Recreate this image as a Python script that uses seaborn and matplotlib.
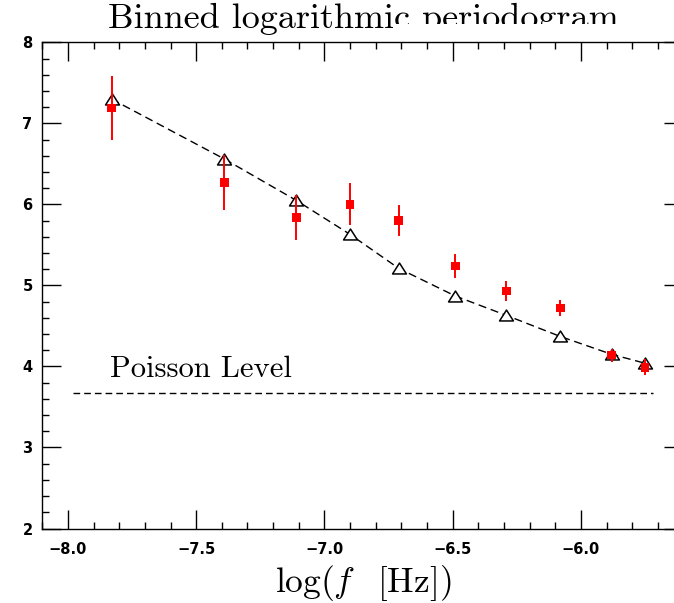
import matplotlib
matplotlib.use("Agg")
import matplotlib.pyplot as plt
from matplotlib.path import Path
from matplotlib.patches import Rectangle
from matplotlib.ticker import MultipleLocator
import pandas as pd
import seaborn as sns

# Binned periodogram: log frequency bins, model and observed log power
log_freq = [-7.83, -7.39, -7.11, -6.90, -6.71, -6.49, -6.29, -6.08, -5.88, -5.75]
model_power = [7.30, 6.56, 6.05, 5.63, 5.21, 4.87, 4.63, 4.37, 4.15, 4.04]
observed_power = [7.19, 6.27, 5.84, 6.00, 5.80, 5.24, 4.93, 4.72, 4.14, 3.99]
observed_err = [0.40, 0.34, 0.28, 0.26, 0.19, 0.15, 0.12, 0.10, 0.08, 0.10]

poisson_level = 3.67
poisson_span = [-7.98, -5.72]
poisson_label = "Poisson Level"

x_ticks = [-8.0, -7.5, -7.0, -6.5, -6.0]
y_ticks = [2, 3, 4, 5, 6, 7, 8]

sns.set_theme(style="ticks")
plt.rcParams["font.family"] = ["DejaVu Sans"]
plt.rcParams["mathtext.fontset"] = "cm"

fig = plt.figure(figsize=(6.74, 6.03), dpi=100)
ax = fig.add_axes([0.0628, 0.1235, 0.9512, 0.8063])

model_df = pd.DataFrame({"log_f": log_freq, "power": model_power})
obs_df = pd.DataFrame({"log_f": log_freq, "power": observed_power,
                       "err": observed_err})

# open triangle marker, a little wider than tall
tri = Path([(-1, -0.786), (1, -0.786), (0, 0.786), (-1, -0.786)],
           [Path.MOVETO, Path.LINETO, Path.LINETO, Path.CLOSEPOLY])

sns.lineplot(data=model_df, x="log_f", y="power", ax=ax, sort=False,
             estimator=None, color="black", linewidth=1.0,
             linestyle=(0, (5.8, 3.4)), marker=tri, markersize=10,
             markerfacecolor="white", markeredgecolor="black",
             markeredgewidth=1.1, zorder=2)

ax.errorbar(obs_df["log_f"], obs_df["power"], yerr=obs_df["err"],
            fmt="none", ecolor="red", elinewidth=1.4, capsize=0, zorder=3)
sns.scatterplot(data=obs_df, x="log_f", y="power", ax=ax, marker="s",
                s=39, color="red", edgecolor="none", linewidth=0, zorder=4)

ax.plot(poisson_span, [poisson_level, poisson_level], color="black",
        linewidth=1.0, linestyle=(0, (4.8, 2.9)), zorder=1)
ax.text(-7.837, 3.873, poisson_label, fontfamily="cmr10", fontsize=22,
        ha="left", va="baseline", color="black")

ax.set_xlim(-8.1, -5.6)
ax.set_ylim(2, 8)
ax.set_xticks(x_ticks)
ax.set_yticks(y_ticks)
ax.xaxis.set_minor_locator(MultipleLocator(0.1))
ax.yaxis.set_minor_locator(MultipleLocator(0.2))

ax.tick_params(which="both", direction="in", top=True, right=True,
               width=1.0, color="black", labelcolor="black")
ax.tick_params(which="major", length=13.9)
ax.tick_params(which="minor", length=4.8)
ax.tick_params(axis="x", which="major", pad=9.5, labelsize=10.5)
ax.tick_params(axis="y", which="major", pad=7, labelsize=10.5)
for lab in ax.get_xticklabels() + ax.get_yticklabels():
    lab.set_fontweight("bold")

for spine in ax.spines.values():
    spine.set_color("black")
    spine.set_linewidth(1.0)

ax.set_xlabel(r"$\log(f\ \ \,[\mathrm{Hz}])$", fontsize=25.5, color="black",
              va="top")
ax.xaxis.set_label_coords(0.5, -0.07)
ax.set_ylabel("")
ax.set_title("Binned logarithmic periodogram", fontfamily="cmr10",
             fontsize=26, pad=10, color="black")

# the lower edge of the title's right half is hidden
fig.add_artist(Rectangle((395 / 674, (603 - 41) / 603), (674 - 395) / 674,
                         17 / 603, transform=fig.transFigure,
                         facecolor="white", edgecolor="none", zorder=10))

fig.savefig("out.png", dpi=100, facecolor="white")
